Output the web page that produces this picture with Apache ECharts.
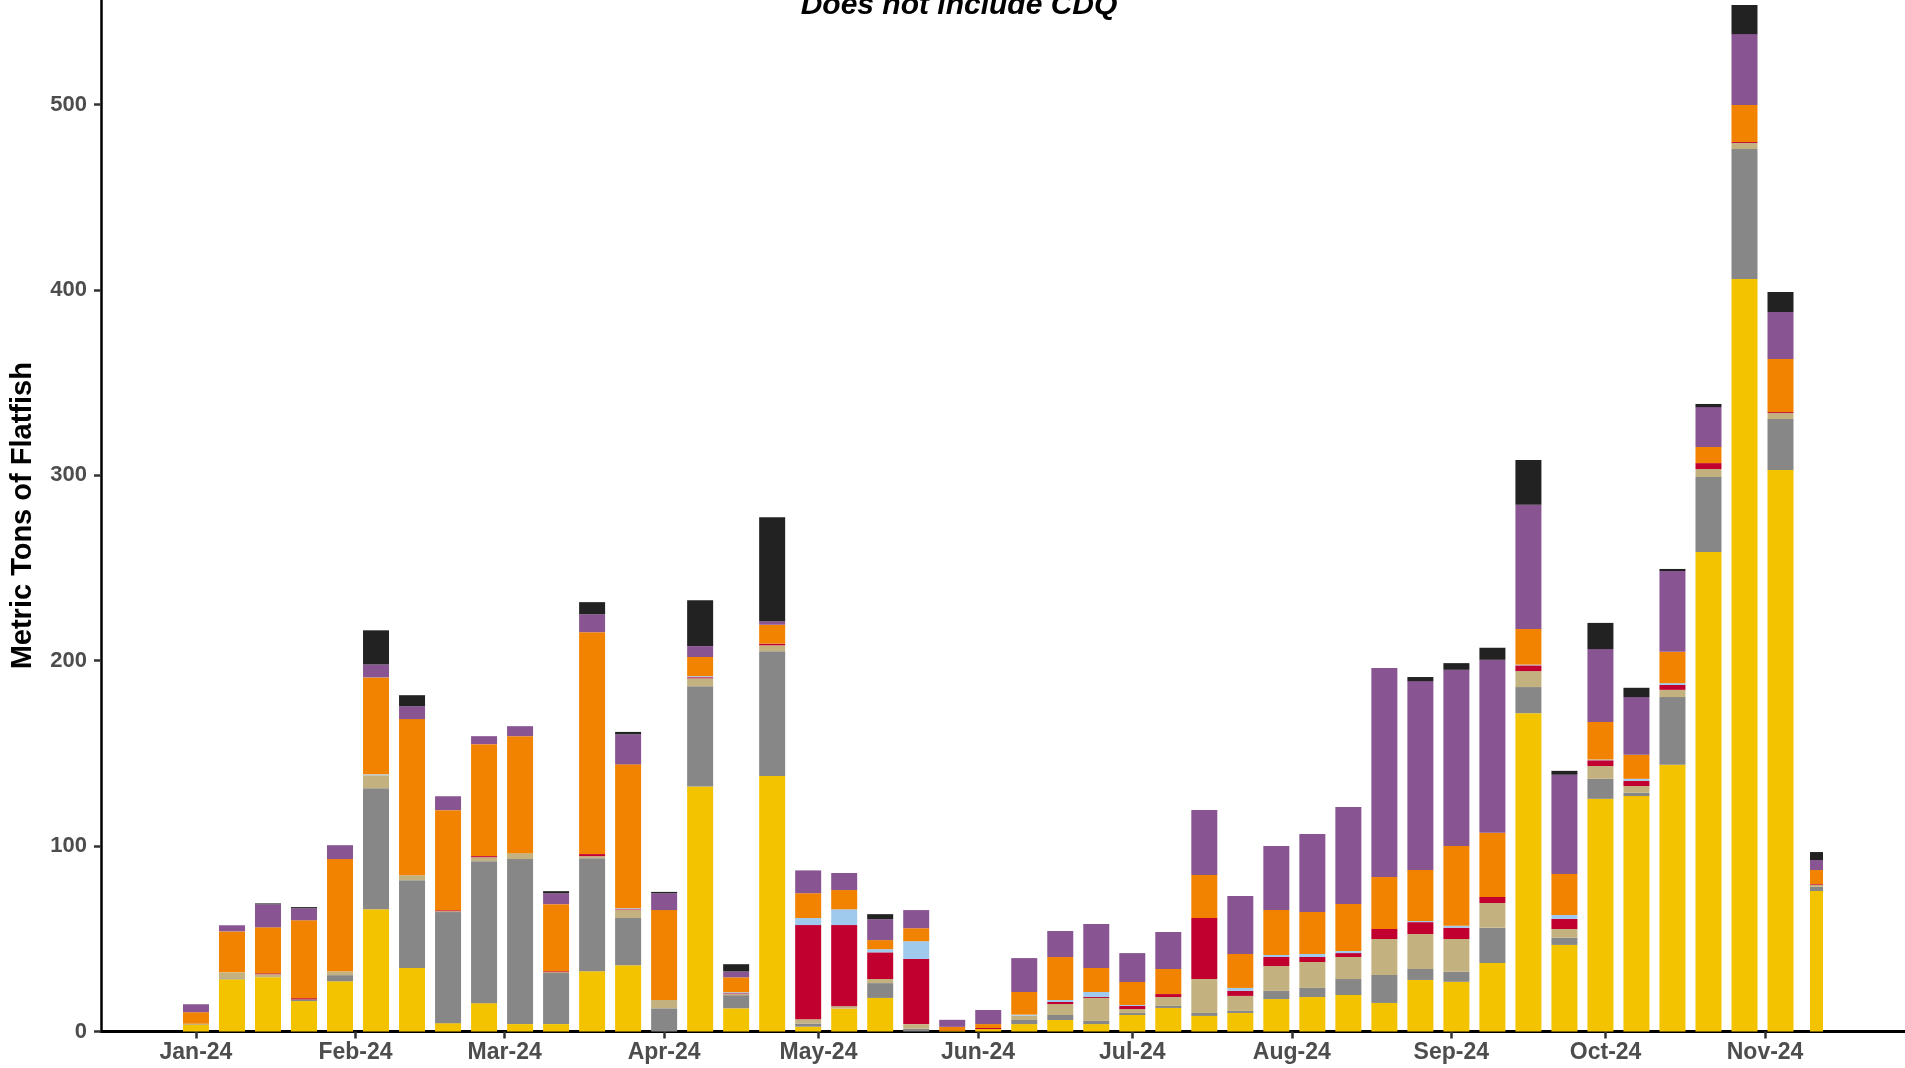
<!DOCTYPE html>
<html>
<head>
<meta charset="utf-8">
<script src="https://cdn.jsdelivr.net/npm/echarts@6/dist/echarts.min.js"></script>
<style>
html,body{margin:0;padding:0;background:#fff;}
#chart{width:1905px;height:1068px;}
</style>
</head>
<body>
<div id="chart"></div>
<script>
// ---- data (weekly catch, metric tons) ----
const weeks = [
  '2024-01-01','2024-01-08','2024-01-15','2024-01-22','2024-01-29',
  '2024-02-05','2024-02-12','2024-02-19','2024-02-26',
  '2024-03-04','2024-03-11','2024-03-18','2024-03-25',
  '2024-04-01','2024-04-08','2024-04-15','2024-04-22','2024-04-29',
  '2024-05-06','2024-05-13','2024-05-20','2024-05-27',
  '2024-06-03','2024-06-10','2024-06-17','2024-06-24',
  '2024-07-01','2024-07-08','2024-07-15','2024-07-22','2024-07-29',
  '2024-08-05','2024-08-12','2024-08-19','2024-08-26',
  '2024-09-02','2024-09-09','2024-09-16','2024-09-23','2024-09-30',
  '2024-10-07','2024-10-14','2024-10-21','2024-10-28',
  '2024-11-04','2024-11-11'
];
const partialWeeks = ['2024-11-11'];

const monthTicks  = ['2024-01-01','2024-02-01','2024-03-01','2024-04-01','2024-05-01','2024-06-01',
                     '2024-07-01','2024-08-01','2024-09-01','2024-10-01','2024-11-01'];
const monthLabels = ['Jan-24','Feb-24','Mar-24','Apr-24','May-24','Jun-24',
                     'Jul-24','Aug-24','Sep-24','Oct-24','Nov-24'];
const yTicks = [0, 100, 200, 300, 400, 500];

const seriesNames  = ['Group 1','Group 2','Group 3','Group 4','Group 5','Group 6','Group 7','Group 8'];
const seriesColors = ['#F3C300','#878787','#C3B280','#C10030','#9FCAEE','#F28300','#885592','#222222'];

const group1 = [3.8,28.2,29.3,16.4,27.1,66.0,34.2,4.5,15.3,4.0,4.0,32.5,35.7,0,132.2,12.5,137.8,2.6,12.3,18.1,0,0.3,1.3,4.0,6.2,4.0,8.9,12.7,8.4,10.0,17.5,18.6,19.7,15.4,27.8,26.8,36.9,171.7,46.7,125.5,127.0,143.9,258.6,405.9,302.9,75.8];
const group2 = [0.4,0.5,0,0.9,3.3,65.2,47.4,59.9,76.6,89.0,27.5,61.0,25.5,12.5,54.0,7.1,67.3,1.7,0,8.0,1.5,0,0,2.2,2.7,1.7,1.1,1.1,1.6,1.1,4.4,4.9,8.6,15.1,5.9,5.4,19.1,14.1,3.9,10.8,1.8,36.5,40.5,70.1,27.5,2.2];
const group3 = [0,3.2,1.6,0,2.1,7.0,2.7,0.5,2.1,3.2,0.5,1.1,4.3,4.5,4.3,0.6,3.2,2.3,1.3,2.2,2.5,0,0,2.3,5.9,12.4,2.1,4.8,18.3,8.1,13.4,14.0,11.9,19.4,18.9,17.7,13.3,8.6,4.7,6.9,3.6,3.9,4.3,3.3,3.2,1.1];
const group4 = [0,0,0.5,0.7,0,0,0,0.5,0.6,0,0.5,1.1,0.4,0,0.6,0.4,0.9,50.8,43.8,14.4,35.1,0,0.6,0,1.1,0.5,1.7,1.6,32.9,2.7,4.9,2.7,2.1,5.4,6.4,6.1,3.3,3.1,5.4,3.1,2.8,2.6,3.2,0.5,0.5,0.4];
const group5 = [0,0,0,0,0,0.5,0,0,0,0,0,0,0.6,0,0.6,0.6,0,3.8,8.5,1.7,9.6,0,0,0.6,1.1,2.7,0.5,0,0,1.6,1.1,1.6,1.1,0,0.6,1.0,0,0.4,2.2,0.4,1.1,1.0,0,0,0,0];
const group6 = [6.2,22.1,24.8,42.0,60.5,52.3,84.2,54.0,60.4,63.1,36.2,119.7,77.6,48.5,10.3,8.0,10.2,13.4,10.4,4.9,7.0,2.2,2.1,12.2,23.2,13.0,12.4,13.5,23.2,18.3,24.2,22.7,25.4,28.0,27.5,43.0,34.6,19.2,22.0,20.3,13.0,16.9,8.7,19.9,28.6,7.6];
const group7 = [4.3,3.3,12.4,6.5,7.5,7.0,7.0,7.5,4.3,5.4,5.9,9.7,16.2,9.1,5.9,3.2,1.9,12.3,9.2,11.3,9.8,3.8,7.6,18.3,14.0,23.7,15.6,20.0,35.1,31.3,34.6,42.0,52.3,112.8,101.9,95.1,93.3,67.0,53.6,39.3,31.1,43.6,21.5,38.3,25.4,5.4];
const group8 = [0,0,0.5,0.6,0,18.4,5.9,0,0,0,1.1,6.5,1.3,0.7,24.7,3.9,56.1,0,0,2.7,0,0,0,0,0,0,0,0,0,0,0,0,0,0,2.2,3.6,6.5,24.2,2.1,14.1,5.0,1.1,1.7,15.7,10.8,4.3];

const seriesValues = [group1, group2, group3, group4, group5, group6, group7, group8];

// ---- helpers ----
const DAY = 86400000;
function ts(s) {
  const p = s.split('-').map(Number);
  return Date.UTC(p[0], p[1] - 1, p[2]);
}
const base = ts('2024-01-01');
const dayOf = s => (ts(s) - base) / DAY;
const monthDays = monthTicks.map(dayOf);
const labelByDay = {};
monthDays.forEach((d, i) => { labelByDay[d] = monthLabels[i]; });

const GRID_LEFT = 101, GRID_RIGHT = 0, CHART_W = 1905;
const PLOT_W = CHART_W - GRID_LEFT - GRID_RIGHT;
const D_MIN = -18.46, D_MAX = 332.2;
const Y_MAX = 556.4;
const FULL_W = 26, PART_W = 13;
const FONT = '"Liberation Sans", Arial, sans-serif';

// ECharts widens a time axis that carries bars by the bar width; pre-shrink so the
// final extent equals [D_MIN, D_MAX] (same as the visible day axis).
function timeExtent(barW) {
  const T = D_MAX - D_MIN;
  const R = T * (1 - barW / PLOT_W);
  const e = (T - R) / 2;
  return [base + (D_MIN + e) * DAY, base + (D_MAX - e) * DAY];
}

const series = [];
seriesNames.forEach((name, k) => {
  const vals = seriesValues[k];
  const full = [], part = [];
  weeks.forEach((w, i) => {
    const pt = [ts(w), vals[i]];
    if (partialWeeks.includes(w)) part.push(pt); else full.push(pt);
  });
  series.push({
    type: 'bar', name: name, stack: 'full', xAxisIndex: 1, yAxisIndex: 0,
    barWidth: FULL_W, itemStyle: { color: seriesColors[k] }, data: full,
    emphasis: { disabled: true }, silent: true
  });
  series.push({
    type: 'bar', name: name + ' (partial week)', stack: 'partial', xAxisIndex: 2, yAxisIndex: 1,
    barWidth: PART_W, itemStyle: { color: seriesColors[k] }, data: part,
    emphasis: { disabled: true }, silent: true
  });
});

const gridBox = { left: GRID_LEFT, right: GRID_RIGHT, top: 0, bottom: 36.5, containLabel: false, outerBoundsMode: 'none' };
function hiddenTime(gi, barW) {
  const ext = timeExtent(barW);
  return { type: 'time', gridIndex: gi, min: ext[0], max: ext[1], show: false, splitLine: { show: false },
           axisLine: { show: false, onZero: false }, axisTick: { show: false }, axisLabel: { show: false } };
}

const chart = echarts.init(document.getElementById('chart'), null, { renderer: 'canvas' });
chart.setOption({
  animation: false,
  backgroundColor: '#ffffff',
  grid: [Object.assign({}, gridBox), Object.assign({}, gridBox)],
  xAxis: [
    {
      type: 'value', gridIndex: 0, min: D_MIN, max: D_MAX, position: 'bottom',
      axisLine: { show: true, onZero: false, lineStyle: { color: '#000', width: 3 } },
      splitLine: { show: false },
      axisTick: { show: true, customValues: monthDays, length: 7, lineStyle: { color: '#333', width: 2.5 } },
      axisLabel: {
        customValues: monthDays,
        formatter: v => labelByDay[v] || '',
        fontSize: 23, fontWeight: 'bold', color: '#4D4D4D', fontFamily: FONT, margin: 10
      }
    },
    hiddenTime(0, FULL_W),
    hiddenTime(1, PART_W)
  ],
  yAxis: [
    {
      type: 'value', gridIndex: 0, min: 0, max: Y_MAX,
      axisLine: { show: true, onZero: false, lineStyle: { color: '#000', width: 2.5 } },
      splitLine: { show: false },
      axisTick: { show: true, customValues: yTicks, length: 7, lineStyle: { color: '#333', width: 2.5 } },
      axisLabel: { customValues: yTicks, fontSize: 22, fontWeight: 'bold', color: '#4D4D4D', fontFamily: FONT, margin: 14 },
      name: 'Metric Tons of Flatfish', nameLocation: 'middle', nameGap: 64,
      nameTextStyle: { fontSize: 29, fontWeight: 'bold', color: '#000', fontFamily: FONT }
    },
    {
      type: 'value', gridIndex: 1, min: 0, max: Y_MAX, show: false, splitLine: { show: false },
      axisLine: { show: false, onZero: false }, axisTick: { show: false }, axisLabel: { show: false }
    }
  ],
  graphic: [{
    type: 'text', x: 959, y: 6, silent: true,
    style: {
      text: 'Does not include CDQ', fill: '#000',
      font: 'italic bold 30px "Liberation Sans", Arial, sans-serif',
      align: 'center', verticalAlign: 'middle'
    }
  }],
  series: series
});
</script>
</body>
</html>
